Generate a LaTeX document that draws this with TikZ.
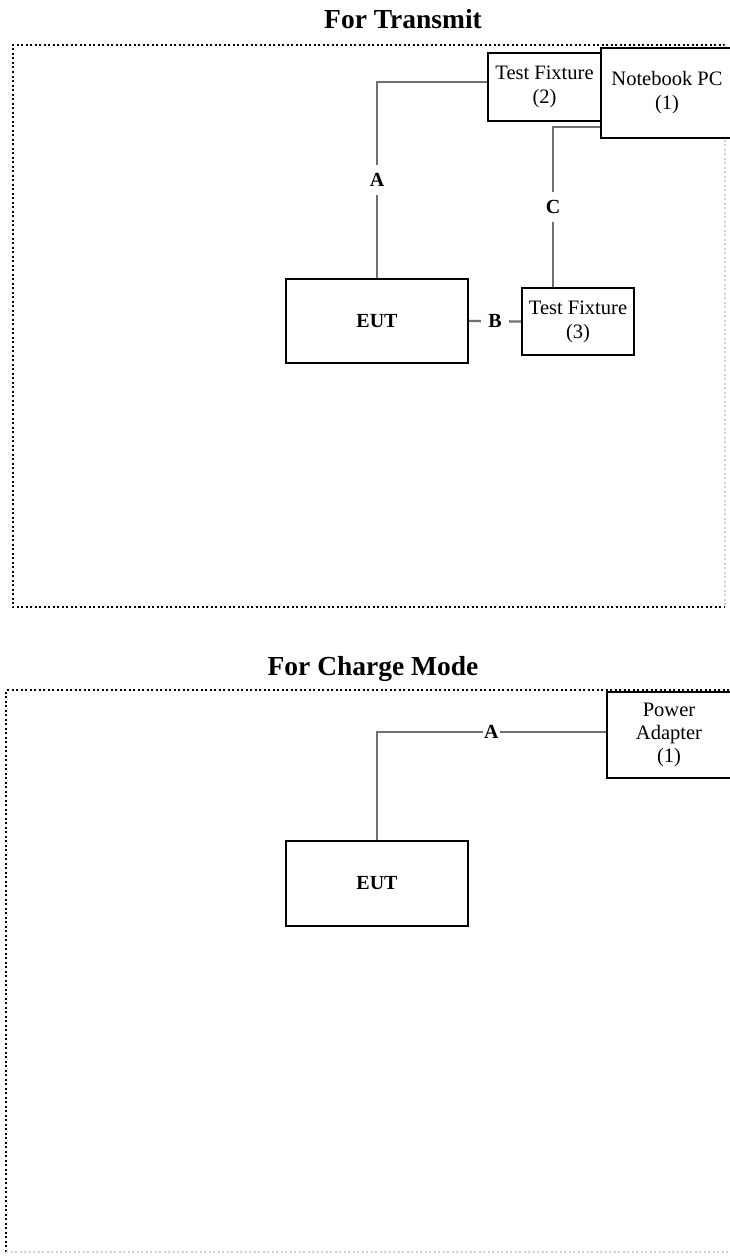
\documentclass[tikz,border=0pt]{standalone}
\usepackage{fontspec}
\setmainfont{Liberation Serif}
\usepackage{tikz}
\usetikzlibrary{positioning, calc}
\definecolor{cablegray}{RGB}{112, 112, 112}

\begin{document}
\begin{tikzpicture}[x=1pt, y=-1pt,
        unit/.style={draw=black, line width=2.4pt, fill=white, align=center, inner sep=1pt, font=\fontsize{20.5}{24}\selectfont},
        cable/.style={draw=cablegray, line width=2.3pt},
        cablelabel/.style={fill=white, inner sep=1pt, font=\fontsize{20}{22}\selectfont\bfseries},
        setupframe/.style={line width=2pt, dash pattern=on 2pt off 2.5pt},
        heading/.style={font=\fontsize{27.5}{30}\selectfont\bfseries, anchor=base}]
        \useasboundingbox (0,0) rectangle (729,1258);

        % Frames
        \draw[setupframe] (725,45) -- (13,45) -- (13,607) -- (725,607);
        \draw[setupframe, gray!35] (725,45) -- (725,607);
        \draw[setupframe] (729,690) -- (6,690) -- (6,1252);
        \draw[setupframe, gray!35] (6,1252) -- (729,1252);

        % Headings
        \node[heading] (transmit) at (403,28) {For Transmit};
        \node[heading] (charge) at (373,675) {For Charge Mode};

        % Transmit setup
        \node[unit, minimum width=113, minimum height=68] (fixtwo) at (544.5,87) {Test Fixture\\(2)};
        \node[unit, minimum width=132, minimum height=90] (notebook) at (667,93) {Notebook PC\\(1)};
        \node[unit, minimum width=182, minimum height=84, font=\fontsize{20}{24}\selectfont\bfseries] (eut) at (377,321) {EUT};
        \node[unit, minimum width=112, minimum height=67] (fixthree) at (578,321.5) {Test Fixture\\(3)};

        % Transmit cables
        \draw[cable] ([yshift=5pt]fixtwo.west) -| node[cablelabel, inner ysep=8pt, pos=0.75] {A} (eut.north);
        \draw[cable] ([yshift=-34pt]notebook.west) -| node[cablelabel, inner ysep=8pt, pos=0.75] {C} ([xshift=-25pt]fixthree.north);
        \draw[cable] (eut.east) -- node[cablelabel, inner xsep=7pt] {B} (fixthree.west);

        % Charge setup
        \node[unit, minimum width=124, minimum height=86, font=\fontsize{20.5}{23}\selectfont] (adapter) at (669,735) {Power\\Adapter\\(1)};
        \node[unit, minimum width=182, minimum height=85, font=\fontsize{20}{24}\selectfont\bfseries] (euttwo) at (377,883.5) {EUT};

        % Charge cable
        \draw[cable] ([yshift=3pt]adapter.west) -| node[cablelabel, pos=0.25] {A} (euttwo.north);
\end{tikzpicture}
\end{document}
